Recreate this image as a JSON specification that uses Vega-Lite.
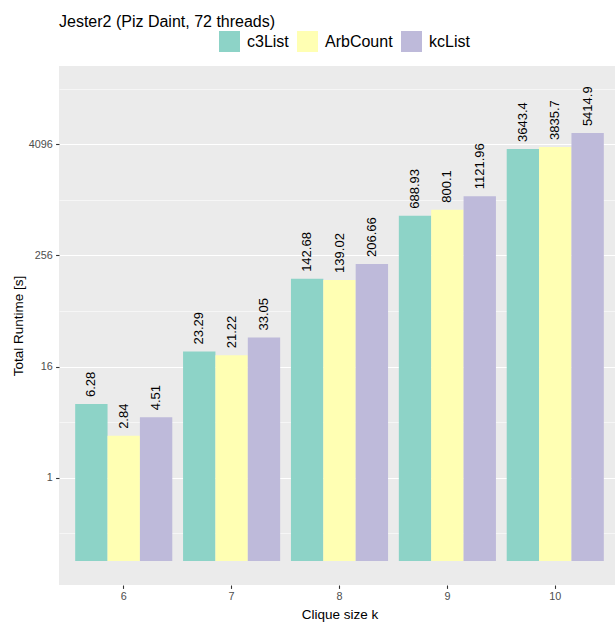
{
  "$schema": "https://vega.github.io/schema/vega-lite/v6.json",
  "width": 556,
  "height": 519,
  "autosize": {"type": "none"},
  "padding": {"left": 59, "top": 66, "right": 0, "bottom": 41},
  "background": "white",
  "config": {
    "font": "Liberation Sans",
    "view": {"fill": "#EBEBEB", "stroke": null},
    "axis": {
      "domain": false,
      "labelColor": "#4D4D4D",
      "labelFontSize": 10.8,
      "labelFont": "Liberation Sans",
      "tickColor": "#333333",
      "tickSize": 3.4,
      "tickWidth": 1.1,
      "titleFontSize": 13.5,
      "titleFont": "Liberation Sans",
      "titleColor": "black",
      "titleFontWeight": "normal"
    }
  },
  "title": {
    "text": "Jester2 (Piz Daint, 72 threads)",
    "anchor": "start",
    "frame": "group",
    "fontSize": 16,
    "font": "Liberation Sans",
    "fontWeight": "normal",
    "color": "black",
    "baseline": "alphabetic",
    "offset": -12
  },
  "data": {
    "values": [
      {"k": 6, "algo": "c3List", "runtime": 6.28},
      {"k": 6, "algo": "ArbCount", "runtime": 2.84},
      {"k": 6, "algo": "kcList", "runtime": 4.51},
      {"k": 7, "algo": "c3List", "runtime": 23.29},
      {"k": 7, "algo": "ArbCount", "runtime": 21.22},
      {"k": 7, "algo": "kcList", "runtime": 33.05},
      {"k": 8, "algo": "c3List", "runtime": 142.68},
      {"k": 8, "algo": "ArbCount", "runtime": 139.02},
      {"k": 8, "algo": "kcList", "runtime": 206.66},
      {"k": 9, "algo": "c3List", "runtime": 688.93},
      {"k": 9, "algo": "ArbCount", "runtime": 800.1},
      {"k": 9, "algo": "kcList", "runtime": 1121.96},
      {"k": 10, "algo": "c3List", "runtime": 3643.4},
      {"k": 10, "algo": "ArbCount", "runtime": 3835.7},
      {"k": 10, "algo": "kcList", "runtime": 5414.9}
    ]
  },
  "encoding": {
    "x": {
      "field": "k",
      "type": "ordinal",
      "scale": {"paddingInner": 0.1, "paddingOuter": 0.15, "range": [0, 561]},
      "axis": {
        "title": "Clique size k",
        "labelAngle": 0,
        "labelPadding": 2.5,
        "titlePadding": 6,
        "grid": false
      }
    },
    "xOffset": {"field": "algo", "type": "nominal", "sort": ["c3List", "ArbCount", "kcList"]},
    "y": {
      "field": "runtime",
      "type": "quantitative",
      "scale": {"type": "log", "base": 2, "domain": [0.06878, 28885], "nice": false, "zero": false},
      "axis": {
        "title": "Total Runtime [s]",
        "values": [0.25, 1, 4, 16, 64, 256, 1024, 4096, 16384],
        "format": "d",
        "labelExpr": "indexof([1,16,256,4096], datum.value) >= 0 ? datum.label : ''",
        "labelOverlap": false,
        "labelPadding": 3.3,
        "titlePadding": 2.5,
        "grid": true,
        "gridColor": "white",
        "gridWidth": {"condition": {"test": "indexof([1,16,256,4096], datum.value) >= 0", "value": 1.1}, "value": 0.55},
        "tickOpacity": {"condition": {"test": "indexof([1,16,256,4096], datum.value) >= 0", "value": 1}, "value": 0}
      }
    }
  },
  "layer": [
    {
      "mark": {"type": "bar"},
      "encoding": {
        "y2": {"datum": 0.125},
        "color": {
          "field": "algo",
          "type": "nominal",
          "scale": {"domain": ["c3List", "ArbCount", "kcList"], "range": ["#8DD3C7", "#FFFFB3", "#BEBADA"]},
          "legend": {
            "orient": "none",
            "legendX": 160,
            "legendY": -35,
            "direction": "horizontal",
            "title": null,
            "symbolType": "square",
            "symbolSize": 441,
            "symbolStrokeWidth": 0,
            "symbolOpacity": 1,
            "labelFontSize": 16,
            "labelFont": "Liberation Sans",
            "labelColor": "black",
            "labelOffset": 7,
            "columnPadding": 8,
            "padding": 0
          }
        }
      }
    },
    {
      "mark": {"type": "text", "angle": 270, "align": "left", "baseline": "middle", "dx": 7, "fontSize": 13, "font": "Liberation Sans", "color": "black"},
      "encoding": {
        "text": {"field": "runtime", "type": "nominal"}
      }
    }
  ]
}
